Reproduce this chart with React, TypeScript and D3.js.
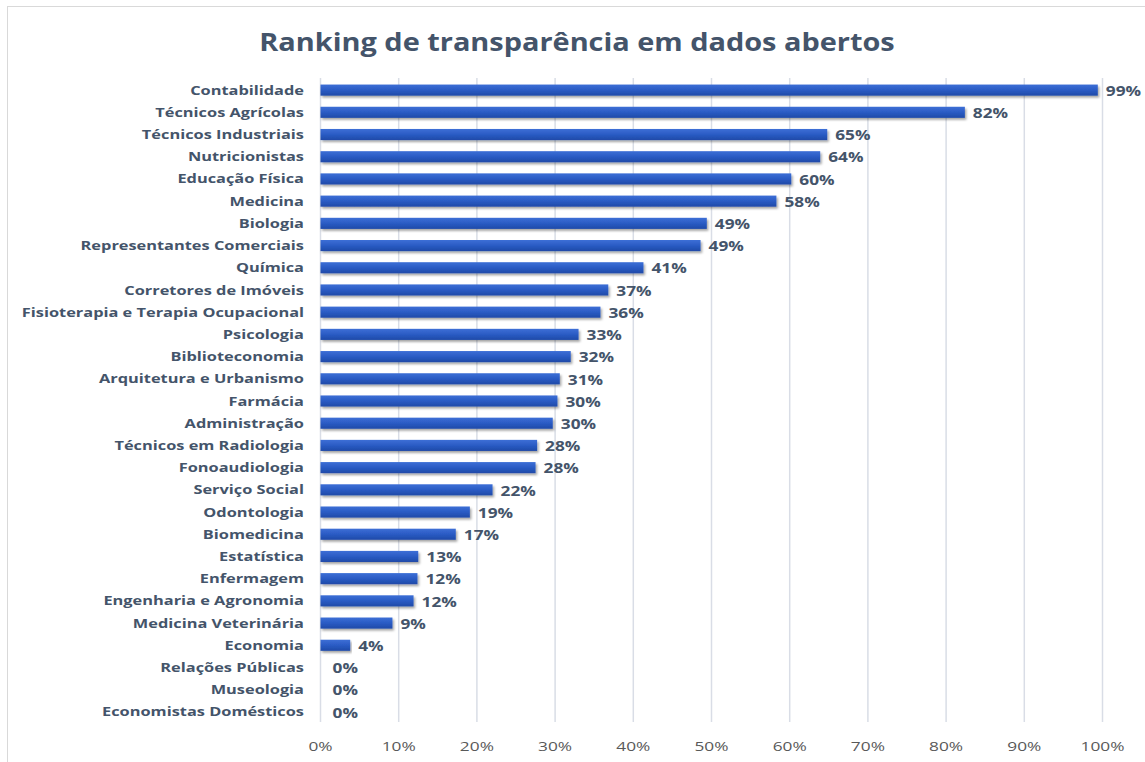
import React from "react";
import * as d3 from "d3";

const categories = [
  "Contabilidade", "Técnicos Agrícolas", "Técnicos Industriais", "Nutricionistas",
  "Educação Física", "Medicina", "Biologia", "Representantes Comerciais", "Química",
  "Corretores de Imóveis", "Fisioterapia e Terapia Ocupacional", "Psicologia",
  "Biblioteconomia", "Arquitetura e Urbanismo", "Farmácia", "Administração",
  "Técnicos em Radiologia", "Fonoaudiologia", "Serviço Social", "Odontologia",
  "Biomedicina", "Estatística", "Enfermagem", "Engenharia e Agronomia",
  "Medicina Veterinária", "Economia", "Relações Públicas", "Museologia",
  "Economistas Domésticos",
];
const values = [
  99.4, 82.4, 64.8, 63.9, 60.2, 58.3, 49.4, 48.6, 41.3, 36.8, 35.8, 33.0, 32.0,
  30.6, 30.3, 29.7, 27.7, 27.5, 22.0, 19.1, 17.3, 12.5, 12.4, 11.9, 9.2, 3.8, 0, 0, 0,
];
const valueLabels = [
  "99%", "82%", "65%", "64%", "60%", "58%", "49%", "49%", "41%", "37%", "36%", "33%",
  "32%", "31%", "30%", "30%", "28%", "28%", "22%", "19%", "17%", "13%", "12%", "12%",
  "9%", "4%", "0%", "0%", "0%",
];
const xTicks = [0, 10, 20, 30, 40, 50, 60, 70, 80, 90, 100];

const W = 1145;
const H = 762;
const textColor = "#44546A";
const font = "'Open Sans', 'Noto Sans', sans-serif";

function SText({ x, y, sx, anchor, size, weight, fill, children }: any) {
  return (
    <g transform={`translate(${x},${y}) scale(${sx},1)`}>
      <text x={0} y={0} dy="0.35em" textAnchor={anchor} fontFamily={font} fontWeight={weight} fontSize={size} fill={fill}>
        {children}
      </text>
    </g>
  );
}

export default function App() {
  const x = d3.scaleLinear().domain([0, 100]).range([320.5, 1102.5]);
  const y = d3.scaleBand<string>().domain(categories).range([79, 723]).paddingInner(0.5).paddingOuter(0.25);
  const bw = y.bandwidth();
  return (
    <svg width={W} height={H} style={{ position: "absolute", left: 0, top: 0, background: "#fff" }}>
      <defs>
        <linearGradient id="barGrad" x1="0" y1="0" x2="0" y2="1">
          <stop offset="0" stopColor="#3d6fd6" />
          <stop offset="0.5" stopColor="#2a5bc4" />
          <stop offset="1" stopColor="#1f4aa8" />
        </linearGradient>
        <filter id="shadow" x="-5%" y="-50%" width="110%" height="250%">
          <feDropShadow dx="1.5" dy="2" stdDeviation="1.2" floodColor="#000" floodOpacity="0.35" />
        </filter>
      </defs>
      <rect x={7.5} y={6.5} width={W} height={H} fill="#fff" stroke="#d9d9d9" strokeWidth={1} />
      <SText x={577} y={42} sx={1.18} anchor="middle" size={24.5} weight={700} fill={textColor}>
        Ranking de transparência em dados abertos
      </SText>
      {xTicks.map((t) => (
        <g key={t}>
          <line x1={x(t)} x2={x(t)} y1={78} y2={722} stroke="#d9dde6" strokeWidth={1.5} />
          <SText x={x(t)} y={746} sx={1.28} anchor="middle" size={13.5} weight={400} fill="#595959">
            {t}%
          </SText>
        </g>
      ))}
      {categories.map((c, i) => {
        const yy = y(c)!;
        const w = x(values[i]) - x(0);
        return (
          <g key={c}>
            <SText x={304} y={yy + bw / 2} sx={1.26} anchor="end" size={13} weight={700} fill={textColor}>
              {c}
            </SText>
            {w > 0 && (
              <rect x={x(0)} y={yy} width={w} height={bw} fill="url(#barGrad)" filter="url(#shadow)" />
            )}
            <SText x={x(values[i]) + 8 + (values[i] === 0 ? 4 : 0)} y={yy + bw / 2 + 1} sx={1.28} anchor="start" size={13.5} weight={700} fill={textColor}>
              {valueLabels[i]}
            </SText>
          </g>
        );
      })}
    </svg>
  );
}
